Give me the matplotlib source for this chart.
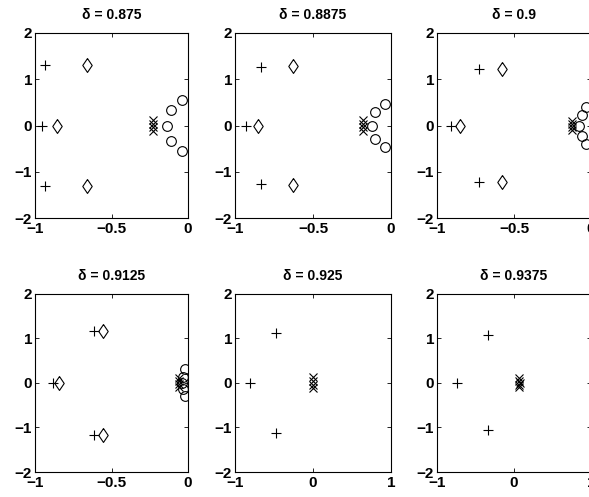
import numpy as np
import matplotlib.pyplot as plt

plt.rcParams['font.family'] = ['Liberation Sans', 'DejaVu Sans']
plt.rcParams['font.weight'] = 'bold'

# damping values, one per panel
deltas = ['0.875', '0.8875', '0.9', '0.9125', '0.925', '0.9375']

plus_re = [[-0.935, -0.956, -0.935], [-0.835, -0.93, -0.835], [-0.725, -0.91, -0.725],
           [-0.614, -0.885, -0.614], [-0.48, -0.81, -0.48], [-0.34, -0.74, -0.34]]
plus_im = [[1.31, 0, -1.31], [1.27, 0, -1.27], [1.22, 0, -1.22],
           [1.16, 0, -1.16], [1.12, 0, -1.12], [1.06, 0, -1.06]]

diam_re = [[-0.662, -0.858, -0.662], [-0.63, -0.853, -0.63], [-0.58, -0.85, -0.58],
           [-0.553, -0.846, -0.553], [], []]
diam_im = [[1.31, 0, -1.31], [1.28, 0, -1.28], [1.22, 0, -1.22],
           [1.16, 0, -1.16], [], []]

circ_re = [[-0.04, -0.11, -0.14, -0.11, -0.04], [-0.04, -0.10, -0.12, -0.10, -0.04],
           [-0.03, -0.06, -0.08, -0.06, -0.03], [-0.02, -0.03, -0.04, -0.03, -0.02], [], []]
circ_im = [[0.55, 0.33, 0, -0.33, -0.55], [0.47, 0.29, 0, -0.29, -0.47],
           [0.40, 0.22, 0, -0.22, -0.40], [0.30, 0.13, 0, -0.13, -0.30], [], []]

cross_re = [[-0.227, -0.227, -0.227, -0.227], [-0.177, -0.177, -0.177, -0.177],
            [-0.125, -0.125, -0.125, -0.125], [-0.06, -0.06, -0.06, -0.06],
            [0.0, 0.0, 0.0, 0.0], [0.06, 0.07, 0.08, 0.07, 0.06]]
cross_im = [[0.12, 0.04, -0.04, -0.12], [0.12, 0.04, -0.04, -0.12],
            [0.10, 0.03, -0.03, -0.10], [0.10, 0.03, -0.03, -0.10],
            [0.12, 0.04, -0.04, -0.12], [0.10, 0.05, 0, -0.05, -0.10]]

xlims = [(-1, 0), (-1, 0), (-1, 0), (-1, 0), (-1, 1), (-1, 1)]
xticks = [[-1, -0.5, 0], [-1, -0.5, 0], [-1, -0.5, 0], [-1, -0.5, 0], [-1, 0, 1], [-1, 0, 1]]
xticklabels = [['\u22121', '\u22120.5', '0'], ['\u22121', '\u22120.5', '0'], ['\u22121', '\u22120.5', '0'],
               ['\u22121', '\u22120.5', '0'], ['\u22121', '0', '1'], ['\u22121', '0', '1']]
yticks = [-2, -1, 0, 1, 2]
yticklabels = ['\u22122', '\u22121', '0', '1', '2']

# matlab style diamond, a bit wider than matplotlib's 'd'
diamond = [(0, 1), (0.68, 0), (0, -1), (-0.68, 0), (0, 1)]

fig = plt.figure(figsize=(5.89, 4.97), dpi=100)
W, H = 589.0, 497.0
lefts = [35, 235, 437]
widths = [153, 156, 154]
rows = [(33, 218), (293.5, 472)]

mk = dict(linestyle='none', color='black', mfc='none', mew=0.8)

for i in range(6):
    r, c = divmod(i, 3)
    top, bot = rows[r]
    ax = fig.add_axes([lefts[c] / W, 1 - bot / H, widths[c] / W, (bot - top) / H])
    ax.plot(plus_re[i], plus_im[i], marker='+', ms=7.5, **mk)
    ax.plot(diam_re[i], diam_im[i], marker=diamond, ms=10, **mk)
    ax.plot(circ_re[i], circ_im[i], marker='o', ms=7, **mk)
    ax.plot(cross_re[i], cross_im[i], marker='x', ms=5.5, **mk)
    ax.set_xlim(*xlims[i])
    ax.set_ylim(-2, 2)
    ax.set_xticks(xticks[i])
    ax.set_xticklabels(xticklabels[i])
    ax.set_yticks(yticks)
    ax.set_yticklabels(yticklabels)
    ax.tick_params(direction='in', top=True, right=True, length=3, width=0.6,
                   labelsize=11, pad=2)
    ax.tick_params(axis='x', pad=3)
    for s in ax.spines.values():
        s.set_linewidth(0.8)
    ax.set_title('\u03b4 = ' + deltas[i], fontsize=10, fontweight='bold', pad=10)

fig.savefig('out.png', dpi=100)
